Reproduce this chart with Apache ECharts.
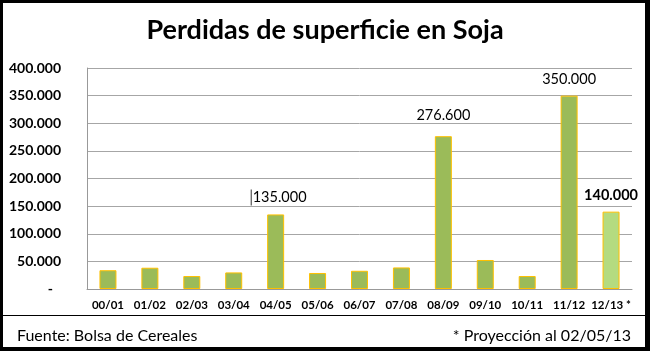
<!DOCTYPE html>
<html><head><meta charset="utf-8">
<script src="https://cdn.jsdelivr.net/npm/echarts@6/dist/echarts.min.js"></script>
<style>
html,body{margin:0;padding:0;background:#fff;}
#wrap{position:relative;width:650px;height:351px;box-sizing:border-box;border-style:solid;border-color:#000;border-width:3px 5px 4px 3px;background:#fff;}
#chart{position:absolute;left:-3px;top:-3px;width:650px;height:351px;}
#sep{position:absolute;left:0;right:0;top:312px;height:1px;background:#000;}
</style></head>
<body><div id="wrap"><div id="chart"></div><div id="sep"></div></div>
<script>
const categories = ['00/01','01/02','02/03','03/04','04/05','05/06','06/07','07/08','08/09','09/10','10/11','11/12','12/13 *'];
const values = [34000, 38500, 23500, 30000, 135000, 29000, 33000, 39000, 276600, 52500, 23500, 350000, 140000];
const labeled = {4:'135.000', 8:'276.600', 11:'350.000', 12:'140.000'};
const yTicks = [0, 50000, 100000, 150000, 200000, 250000, 300000, 350000, 400000];
const titleText = 'Perdidas de superficie en Soja';
const sourceText = 'Fuente: Bolsa de Cereales';
const noteText = '* Proyección al 02/05/13';

const FONT = 'Lato';
function fmt(v){ return v === 0 ? '{d|-}' : v.toLocaleString('de-DE'); }

const data = values.map((v, i) => {
  const item = {value: v};
  if (i === 12) item.itemStyle = {color: '#B4DB80', borderColor: '#FFC000', borderWidth: 1};
  if (labeled[i] !== undefined) {
    const lbl = {show: true, position: 'top', distance: 9, fontFamily: FONT, fontSize: 14.5, color: '#000'};
    if (i === 4) { lbl.formatter = '{c|}{v|' + labeled[i] + '}'; lbl.offset = [3, 0]; lbl.rich = {c:{width:1,height:16,backgroundColor:'#333'}, v:{fontFamily:FONT,fontSize:14.5,color:'#000',padding:[0,0,0,1]}}; }
    else lbl.formatter = labeled[i];
    if (i === 8) lbl.distance = 13;
    if (i === 12) lbl.fontWeight = 'bold';
    item.label = lbl;
  }
  return item;
});

const chart = echarts.init(document.getElementById('chart'), null, {renderer: 'canvas'});
chart.setOption({
  animation: false,
  backgroundColor: 'transparent',
  title: [
    {text: titleText, left: 'center', top: 12, textStyle: {fontFamily: FONT, fontSize: 27, fontWeight: 'bold', color: '#000'}},
    {text: sourceText, left: 12, top: 323, textStyle: {fontFamily: FONT, fontSize: 16, fontWeight: 'normal', color: '#000'}},
    {text: noteText, right: 14, top: 323, textStyle: {fontFamily: FONT, fontSize: 16, fontWeight: 'normal', color: '#000'}}
  ],
  grid: {left: 87, right: 18, top: 68, bottom: 62, containLabel: false},
  xAxis: {
    type: 'category', data: categories,
    axisLine: {show: true, lineStyle: {color: '#999', width: 1}},
    axisTick: {show: false},
    axisLabel: {fontFamily: FONT, fontSize: 11.5, fontWeight: 'bold', color: '#000', margin: 10, interval: 0}
  },
  yAxis: {
    type: 'value', min: 0, max: 400000, interval: 50000,
    axisLine: {show: true, lineStyle: {color: '#999', width: 1}},
    axisTick: {show: false},
    splitLine: {lineStyle: {color: '#a6a6a6', width: 1}},
    axisLabel: {fontFamily: FONT, fontSize: 14, fontWeight: 'bold', color: '#000', margin: 26,
      formatter: v => yTicks.includes(v) ? fmt(v) : '',
      rich: {d: {fontFamily: FONT, fontSize: 14, fontWeight: 'bold', color: '#000', padding: [0, 8, 0, 0]}}}
  },
  series: [{
    type: 'bar', data: data, barWidth: 17,
    itemStyle: {color: '#9BBB59', borderColor: '#FFC000', borderWidth: 1}
  }]
});
</script></body></html>
